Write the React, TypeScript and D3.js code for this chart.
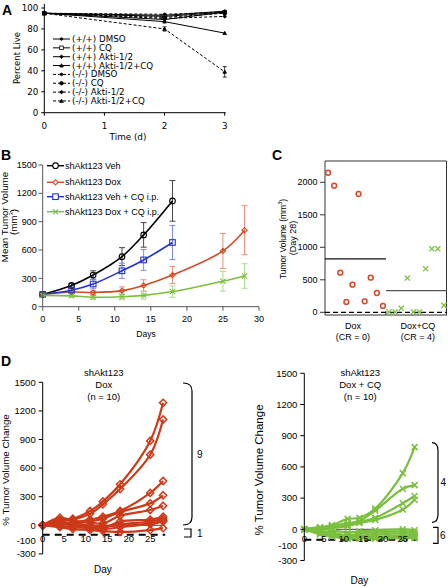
import React from 'react';
import * as d3 from 'd3';

const FV = 'DejaVu Sans, Verdana, sans-serif';
const FA = 'Liberation Sans, Arial, sans-serif';

// ---------- Panel A data ----------
const daysA = [0, 2, 3];
const labelsA = ['(+/+) DMSO', '(+/+) CQ', '(+/+) Akti-1/2', '(+/+) Akti-1/2+CQ', '(-/-) DMSO', '(-/-) CQ', '(-/-) Akti-1/2', '(-/-) Akti-1/2+CQ'];
const wtDMSO = [95, 93, 97];
const wtCQ = [95, 92, 96];
const wtAkti = [95, 89, 96];
const wtAktiCQ = [95, 87, 76];
const koDMSO = [95, 94, 96];
const koCQ = [95, 91, 95];
const koAkti = [95, 90, 92];
const koAktiCQ = [95, 80, 39];
const koAktiCQErr = [0, 2, 5];
const ticksAy = [0, 20, 40, 60, 80, 100];
const ticksAx = [0, 1, 2, 3];

// ---------- Panel B data ----------
const daysBshort = [0, 4, 7, 11, 14, 18];
const daysBlong = [0, 4, 7, 11, 14, 18, 25, 28];
const labelsB = ['shAkt123 Veh', 'shAkt123 Dox', 'shAkt123 Veh + CQ i.p.', 'shAkt123 Dox + CQ i.p.'];
const vehMean = [130, 225, 335, 530, 760, 1120];
const vehErr = [10, 20, 45, 95, 130, 215];
const doxMean = [130, 155, 150, 170, 225, 335, 590, 810];
const doxErr = [10, 15, 20, 40, 60, 90, 185, 260];
const vehCQMean = [130, 175, 240, 380, 495, 680];
const vehCQErr = [10, 20, 50, 80, 110, 180];
const doxCQMean = [120, 115, 100, 105, 120, 160, 270, 325];
const doxCQErr = [10, 15, 20, 30, 40, 60, 105, 130];
const ticksBy = [0, 300, 600, 900, 1200, 1500];
const ticksBx = [0, 5, 10, 15, 20, 25, 30];

// ---------- Panel C data ----------
const doxDay28 = [2147, 1948, 609, 159, 425, 1820, 169, 532, 297, 98];
const doxCQDay28 = [5, 5, 62, 527, 5, 5, 670, 977, 977, 107];
const groupsC = ['Dox', 'Dox+CQ'];
const crC = ['(CR = 0)', '(CR = 4)'];
const ticksCy = [0, 500, 1000, 1500, 2000];

// ---------- Panel D data ----------
const daysD = [0, 4, 7, 11, 14, 18, 25, 28];
const doxTumors = [
  [0, 60, 70, 150, 250, 430, 885, 1285],
  [0, 40, 60, 120, 220, 380, 740, 1110],
  [0, 20, 30, 60, 90, 150, 340, 465],
  [0, 10, 20, 40, 70, 140, 230, 315],
  [0, 80, 50, 30, 20, 100, 160, 205],
  [0, 10, 0, -20, -30, 40, 60, 90],
  [0, 20, 10, -10, -20, 10, 40, 70],
  [0, -10, -20, -30, -40, -20, 20, 50],
  [0, 30, 20, 0, -10, 0, 10, 40],
  [0, -20, -40, -50, -60, -70, -50, -30],
];
const doxCQTumors = [
  [0, 20, 40, 100, 110, 200, 540, 790],
  [0, 10, 30, 60, 80, 180, 390, 425],
  [0, 20, 20, 40, 70, 110, 250, 320],
  [0, -10, 10, 30, 60, 90, 190, 285],
  [0, 10, -10, -30, -20, -10, 0, -10],
  [0, -20, -30, -60, -40, -30, -20, -30],
  [0, -30, -50, -70, -60, -50, -40, -50],
  [0, -40, -60, -80, -70, -70, -60, -65],
  [0, -20, -40, -60, -80, -80, -75, -75],
  [0, -50, -70, -90, -90, -90, -85, -85],
];
const ticksDy = [1500, 1200, 900, 600, 300, 0, -300];
const ticksDx = [0, 5, 10, 15, 20, 25];
const bracketDox = ['9', '1'];
const bracketDoxCQ = ['4', '6'];

const RED = '#cc3a1a';
const GREEN = '#7bbf3e';
const BLUE = '#2233cc';

type Shape = 'circle' | 'square' | 'diamond' | 'triangle' | 'x' | 'dot';

function Marker({ shape, x, y, s, color, fill, sw = 1 }: { shape: Shape; x: number; y: number; s: number; color: string; fill: string; sw?: number }) {
  if (shape === 'circle' || shape === 'dot') return <circle cx={x} cy={y} r={s} stroke={color} fill={fill} strokeWidth={sw} />;
  if (shape === 'square') return <rect x={x - s} y={y - s} width={2 * s} height={2 * s} stroke={color} fill={fill} strokeWidth={sw} />;
  if (shape === 'diamond') return <path d={`M${x},${y - s}L${x + s},${y}L${x},${y + s}L${x - s},${y}Z`} stroke={color} fill={fill} strokeWidth={sw} />;
  if (shape === 'triangle') return <path d={`M${x},${y - s}L${x + s},${y + s * 0.8}L${x - s},${y + s * 0.8}Z`} stroke={color} fill={fill} strokeWidth={sw} />;
  return <path d={`M${x - s},${y - s}L${x + s},${y + s}M${x - s},${y + s}L${x + s},${y - s}`} stroke={color} fill="none" strokeWidth={sw} />;
}

function PanelA() {
  const x = d3.scaleLinear().domain([0, 3]).range([44.3, 224.7]);
  const y = d3.scaleLinear().domain([0, 100]).range([112.7, 8]);
  const series = [wtDMSO, wtCQ, wtAkti, wtAktiCQ, koDMSO, koCQ, koAkti, koAktiCQ];
  const shapes: Shape[] = ['dot', 'square', 'diamond', 'triangle', 'dot', 'circle', 'diamond', 'triangle'];
  const line = d3.line<number>().x((_, i) => x(daysA[i])).y(d => y(d));
  return (
    <g fontFamily={FV}>
      <text x={2} y={15} fontSize={14} fontWeight="bold" fontFamily={FA}>A</text>
      {series.map((s, k) => (
        <g key={k}>
          <path d={line(s) || ''} fill="none" stroke="#000" strokeWidth={1} strokeDasharray={k >= 4 ? '3,2' : undefined} />
          {s.map((v, i) => (
            <Marker key={i} shape={shapes[k]} x={x(daysA[i])} y={y(v)} s={shapes[k] === 'dot' ? 1.3 : 1.8} color="#000" fill={shapes[k] === 'square' ? '#fff' : '#000'} sw={0.8} />
          ))}
        </g>
      ))}
      {koAktiCQ.map((v, i) => koAktiCQErr[i] > 0 && (
        <g key={i} stroke="#000" strokeWidth={0.8}>
          <line x1={x(daysA[i])} x2={x(daysA[i])} y1={y(v - koAktiCQErr[i])} y2={y(v + koAktiCQErr[i])} />
          <line x1={x(daysA[i]) - 2} x2={x(daysA[i]) + 2} y1={y(v - koAktiCQErr[i])} y2={y(v - koAktiCQErr[i])} />
          <line x1={x(daysA[i]) - 2} x2={x(daysA[i]) + 2} y1={y(v + koAktiCQErr[i])} y2={y(v + koAktiCQErr[i])} />
        </g>
      ))}
      <line x1={x(0)} x2={x(0)} y1={y(0)} y2={y(100) - 4} stroke="#000" />
      <line x1={x(0)} x2={x(3) + 1} y1={y(0)} y2={y(0)} stroke="#000" />
      {ticksAy.map(t => (
        <g key={t}>
          <line x1={x(0) - 3} x2={x(0)} y1={y(t)} y2={y(t)} stroke="#000" />
          <text x={x(0) - 6} y={y(t)} dy="0.35em" textAnchor="end" fontSize={8.7}>{t}</text>
        </g>
      ))}
      {ticksAx.map(t => (
        <g key={t}>
          <line x1={x(t)} x2={x(t)} y1={y(0)} y2={y(0) + 3} stroke="#000" />
          <text x={x(t)} y={126} dy="0.35em" textAnchor="middle" fontSize={8.7}>{t}</text>
        </g>
      ))}
      <text x={128} y={137} dy="0.35em" textAnchor="middle" fontSize={8.8}>Time (d)</text>
      <text transform="translate(17,58) rotate(-90)" dy="0.35em" textAnchor="middle" fontSize={8.5}>Percent Live</text>
      {labelsA.map((l, k) => {
        const ly = 39 + k * 8.85;
        return (
          <g key={l}>
            <line x1={53} x2={70} y1={ly} y2={ly} stroke="#000" strokeDasharray={k >= 4 ? '3,2' : undefined} />
            <Marker shape={shapes[k]} x={61.5} y={ly} s={shapes[k] === 'dot' ? 1.3 : 1.8} color="#000" fill={shapes[k] === 'square' ? '#fff' : '#000'} sw={0.8} />
            <text x={72} y={ly} dy="0.35em" fontSize={8.7}>{l}</text>
          </g>
        );
      })}
    </g>
  );
}

function ErrBars({ xs, ys, errs, x, y, color }: { xs: number[]; ys: number[]; errs: number[]; x: any; y: any; color: string }) {
  return (
    <g stroke={color} strokeWidth={1}>
      {ys.map((v, i) => (
        <g key={i}>
          <line x1={x(xs[i])} x2={x(xs[i])} y1={y(v - errs[i])} y2={y(v + errs[i])} />
          <line x1={x(xs[i]) - 3} x2={x(xs[i]) + 3} y1={y(v - errs[i])} y2={y(v - errs[i])} />
          <line x1={x(xs[i]) - 3} x2={x(xs[i]) + 3} y1={y(v + errs[i])} y2={y(v + errs[i])} />
        </g>
      ))}
    </g>
  );
}

function PanelB() {
  const x = d3.scaleLinear().domain([0, 30]).range([42.7, 259]);
  const y = d3.scaleLinear().domain([0, 1500]).range([306.7, 165]);
  const mk = (days: number[]) => d3.line<number>().x((_, i) => x(days[i])).y(d => y(d)).curve(d3.curveCatmullRom.alpha(0.5));
  const series = [
    { m: vehMean, e: vehErr, d: daysBshort, c: '#000', ec: '#444', shape: 'circle' as Shape, s: 2.8 },
    { m: doxMean, e: doxErr, d: daysBlong, c: '#d04a25', ec: '#e3917a', shape: 'diamond' as Shape, s: 2.6 },
    { m: vehCQMean, e: vehCQErr, d: daysBshort, c: BLUE, ec: '#7f8ce6', shape: 'square' as Shape, s: 2.8 },
    { m: doxCQMean, e: doxCQErr, d: daysBlong, c: GREEN, ec: '#acd98c', shape: 'x' as Shape, s: 2.6 },
  ];
  return (
    <g fontFamily={FA}>
      <text x={1} y={160} fontSize={14} fontWeight="bold">B</text>
      {series.map((sr, k) => <ErrBars key={k} xs={sr.d} ys={sr.m} errs={sr.e} x={x} y={y} color={sr.ec} />)}
      {series.map((sr, k) => (
        <g key={k}>
          <path d={mk(sr.d)(sr.m) || ''} fill="none" stroke={sr.c} strokeWidth={1.6} />
          {sr.m.map((v, i) => <Marker key={i} shape={sr.shape} x={x(sr.d[i])} y={y(v)} s={sr.s} color={sr.c} fill="none" sw={1.1} />)}
        </g>
      ))}
      <line x1={x(0)} x2={x(0)} y1={y(0)} y2={y(1500)} stroke="#555" />
      <line x1={x(0)} x2={x(30)} y1={y(0)} y2={y(0)} stroke="#555" />
      {ticksBy.map(t => (
        <g key={t}>
          <line x1={x(0) - 4} x2={x(0)} y1={y(t)} y2={y(t)} stroke="#555" />
          <text x={x(0) - 6} y={y(t)} dy="0.35em" textAnchor="end" fontSize={9}>{t}</text>
        </g>
      ))}
      {ticksBx.map(t => (
        <g key={t}>
          <line x1={x(t)} x2={x(t)} y1={y(0)} y2={y(0) + 4} stroke="#555" />
          <text x={x(t)} y={318.5} dy="0.35em" textAnchor="middle" fontSize={9}>{t}</text>
        </g>
      ))}
      <text x={146} y={334} dy="0.35em" textAnchor="middle" fontSize={8.5}>Days</text>
      <text transform="translate(5,217) rotate(-90)" dy="0.35em" textAnchor="middle" fontSize={9.8}>Mean Tumor Volume</text>
      <text transform="translate(14,222) rotate(-90)" dy="0.35em" textAnchor="middle" fontSize={9.8}>(mm<tspan fontSize={6} dy="-4">3</tspan><tspan dy="4">)</tspan></text>
      {labelsB.map((l, k) => {
        const ly = [165.7, 182.3, 196.7, 211.7][k];
        const sr = series[k];
        return (
          <g key={l}>
            <line x1={47} x2={64} y1={ly} y2={ly} stroke={sr.c} strokeWidth={1.4} />
            <Marker shape={sr.shape} x={55.5} y={ly} s={sr.s} color={sr.c} fill="#fff" sw={1.1} />
            <text x={65} y={ly} dy="0.35em" fontSize={9}>{l}</text>
          </g>
        );
      })}
    </g>
  );
}

function PanelC() {
  const y = d3.scaleLinear().domain([0, 2000]).range([312.3, 182.3]);
  const x = d3.scaleLinear().domain([-0.5, 19.5]).range([325, 447]);
  const x0 = 325, x1 = 447, xm = 386, yTop = 161, yBot = 315;
  const meanDox = d3.mean(doxDay28) || 0;
  const meanCQ = d3.mean(doxCQDay28) || 0;
  return (
    <g fontFamily={FA}>
      <text x={272} y={160} fontSize={14} fontWeight="bold">C</text>
      <path d={`M${x0},${yBot}V${yTop}H${x1 - 0.5}V${yBot}`} fill="none" stroke="#333" strokeWidth={1} />
      <line x1={x0} x2={x1} y1={yBot} y2={yBot} stroke="#333" />
      <line x1={xm} x2={xm} y1={yBot - 4} y2={yBot} stroke="#333" />
      <line x1={x0} x2={x1} y1={y(0)} y2={y(0)} stroke="#000" strokeWidth={1.2} strokeDasharray="5,3" />
      <line x1={x0} x2={xm} y1={y(meanDox)} y2={y(meanDox)} stroke="#111" strokeWidth={1.2} />
      <line x1={xm} x2={x1} y1={y(meanCQ)} y2={y(meanCQ)} stroke="#555" strokeWidth={1.2} />
      {ticksCy.map(t => (
        <g key={t}>
          <line x1={x0 - 5} x2={x0} y1={y(t)} y2={y(t)} stroke="#333" />
          <text x={317.5} y={y(t)} dy="0.35em" textAnchor="end" fontSize={9}>{t}</text>
        </g>
      ))}
      {doxDay28.map((v, i) => <circle key={i} cx={x(i)} cy={y(v)} r={2.4} fill="none" stroke="#d9462a" strokeWidth={1.5} />)}
      {doxCQDay28.map((v, i) => <Marker key={i} shape="x" x={x(i + 10)} y={y(v)} s={2.6} color={GREEN} fill="none" sw={1.3} />)}
      {groupsC.map((g, k) => (
        <g key={g}>
          <text x={[353, 418][k]} y={326} dy="0.35em" textAnchor="middle" fontSize={9}>{g}</text>
          <text x={[353, 418][k]} y={337} dy="0.35em" textAnchor="middle" fontSize={9}>{crC[k]}</text>
        </g>
      ))}
      <text transform="translate(282.7,239) rotate(-90)" dy="0.35em" textAnchor="middle" fontSize={8.5}>Tumor Volume (mm<tspan fontSize={5.5} dy="-3.5">3</tspan><tspan dy="3.5">)</tspan></text>
      <text transform="translate(292.7,238) rotate(-90)" dy="0.35em" textAnchor="middle" fontSize={9}>(Day 28)</text>
    </g>
  );
}

function Bracket({ x, y1, y2, w, curly }: { x: number; y1: number; y2: number; w: number; curly: boolean }) {
  const d = curly
    ? `M${x},${y1} Q${x + w},${y1} ${x + w},${y1 + 8} L${x + w},${y2 - 8} Q${x + w},${y2} ${x},${y2}`
    : `M${x},${y1} H${x + w} V${y2} H${x}`;
  return <path d={d} fill="none" stroke="#000" strokeWidth={1.2} />;
}

function PanelD({ data, color, shape, x0, y0, y1500, title, xSpan25, tickLabelY, dayY, ylabX, ylabSize, brackets, letter }: any) {
  const x = d3.scaleLinear().domain([0, 25]).range([x0, x0 + xSpan25]);
  const y = d3.scaleLinear().domain([0, 1500]).range([y0, y1500]);
  const line = d3.line<number>().x((_, i) => x(daysD[i])).y(d => y(d)).curve(d3.curveCatmullRom.alpha(0.5));
  return (
    <g fontFamily={FA}>
      {letter && <text x={1} y={366} fontSize={14} fontWeight="bold">{letter}</text>}
      {title.map((t: string, i: number) => (
        <text key={i} x={x(14.2)} y={372.7 + i * 12} dy="0.35em" textAnchor="middle" fontSize={9.5}>{t}</text>
      ))}
      <line x1={x(8)} x2={x(28)} y1={y(0)} y2={y(0)} stroke="#444" strokeWidth={1} />
      <line x1={x0} x2={x(28.5)} y1={y(-100)} y2={y(-100)} stroke="#000" strokeWidth={2} strokeDasharray="7,5" />
      {data.map((s: number[], k: number) => (
        <g key={k}>
          <path d={line(s) || ''} fill="none" stroke={color} strokeWidth={2.2} />
          {s.map((v, i) => <Marker key={i} shape={shape} x={x(daysD[i])} y={y(v)} s={shape === 'diamond' ? 3.6 : 3} color={color} fill="none" sw={1.5} />)}
        </g>
      ))}
      <line x1={x0} x2={x0} y1={y(1500)} y2={y(-300)} stroke="#000" />
      {ticksDy.map(t => (
        <g key={t}>
          <line x1={x0 - 4} x2={x0} y1={y(t)} y2={y(t)} stroke="#000" />
          <text x={x0 - 7} y={y(t)} dy="0.35em" textAnchor="end" fontSize={9.5}>{t}</text>
        </g>
      ))}
      <text x={x0 - 7} y={y(-100) + 6} dy="0.35em" textAnchor="end" fontSize={9.5}>-100</text>
      {ticksDx.map(t => (
        <text key={t} x={x(t)} y={tickLabelY} dy="0.35em" textAnchor="middle" fontSize={9.5}>{t}</text>
      ))}
      <text x={x(14)} y={dayY} dy="0.35em" textAnchor="middle" fontSize={10}>Day</text>
      <text transform={`translate(${ylabX},470) rotate(-90)`} dy="0.35em" textAnchor="middle" fontSize={ylabSize}>% Tumor Volume Change</text>
      {brackets.map((b: any, i: number) => (
        <g key={i}>
          <Bracket x={b.x} y1={b.y1} y2={b.y2} w={b.w} curly={b.curly} />
          <text x={b.lx} y={(b.y1 + b.y2) / 2} dy="0.35em" fontSize={10}>{b.label}</text>
        </g>
      ))}
    </g>
  );
}

export default function App() {
  return (
    <svg width={448} height={587} style={{ position: 'absolute', left: 0, top: 0, background: '#fff' }}>
      <rect width={448} height={587} fill="#fff" />
      <PanelA />
      <PanelB />
      <PanelC />
      <PanelD
        data={doxTumors} color={RED} shape="diamond" x0={42.7} y0={525.3} y1500={382.3}
        title={['shAkt123', 'Dox', '(n = 10)']} xSpan25={107.5} tickLabelY={539} dayY={569}
        ylabX={6} ylabSize={9.8} letter="D"
        brackets={[
          { x: 183, y1: 383, y2: 525, w: 9, curly: true, lx: 197, label: bracketDox[0] },
          { x: 184, y1: 529, y2: 537, w: 7, curly: false, lx: 197, label: bracketDox[1] },
        ]}
      />
      <PanelD
        data={doxCQTumors} color={GREEN} shape="x" x0={304.3} y0={529.3} y1500={373.3}
        title={['shAkt123', 'Dox + CQ', '(n = 10)']} xSpan25={98.5} tickLabelY={538.3} dayY={580.7}
        ylabX={259.3} ylabSize={11.5} letter={null}
        brackets={[
          { x: 432, y1: 442.7, y2: 522.3, w: 6, curly: true, lx: 440.5, label: bracketDoxCQ[0] },
          { x: 433, y1: 527.3, y2: 543.3, w: 5, curly: false, lx: 440, label: bracketDoxCQ[1] },
        ]}
      />
    </svg>
  );
}
